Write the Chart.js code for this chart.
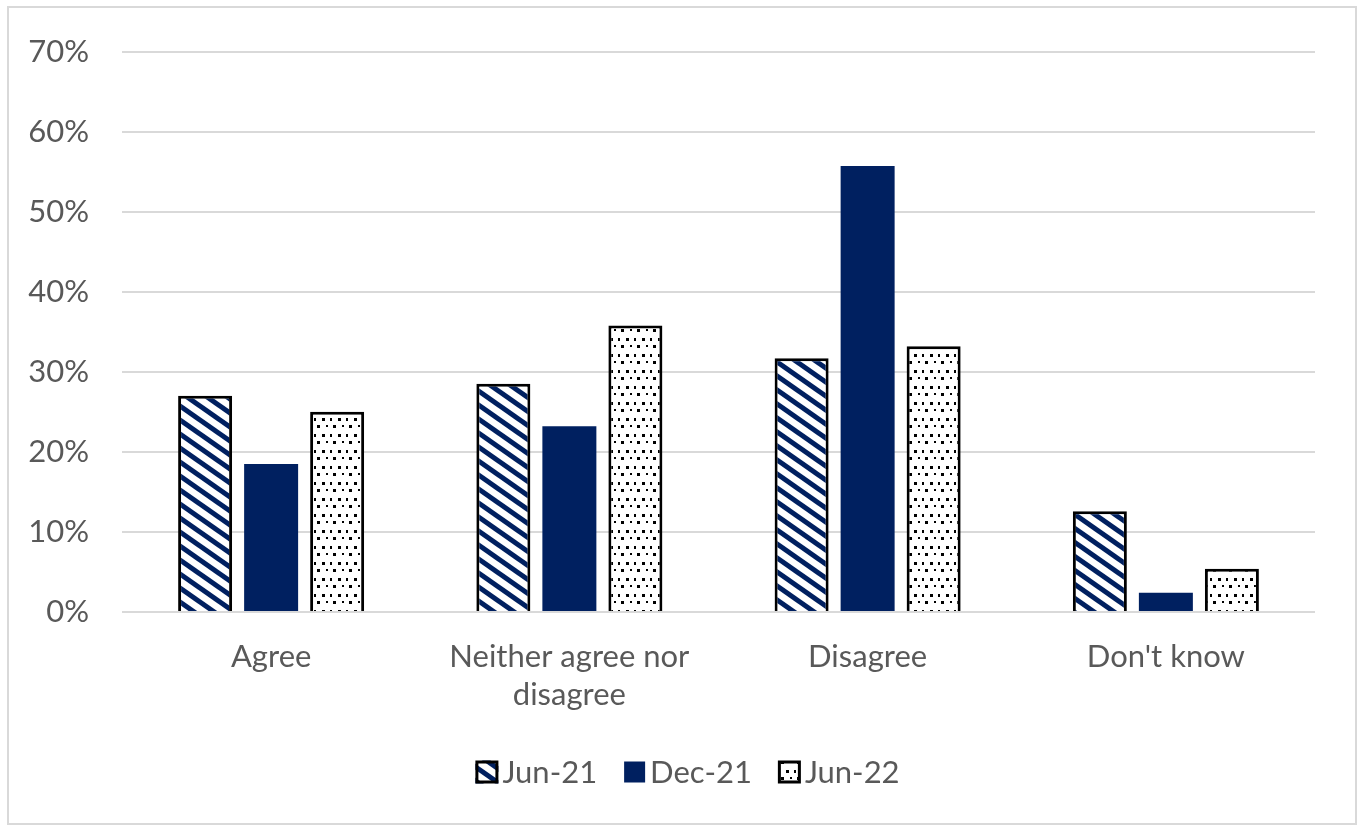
<!DOCTYPE html>
<html>
<head>
<meta charset="utf-8">
<title>Survey responses</title>
<script src="https://cdn.jsdelivr.net/npm/chart.js@4.4.1/dist/chart.umd.min.js"></script>
<style>
  html, body { margin: 0; padding: 0; background: #fff; }
  #wrap { position: absolute; left: 0; top: 0; width: 1359px; height: 826px; }
</style>
</head>
<body>
<div id="wrap"><canvas id="surveyChart"></canvas></div>
<script>
/* ---------- data ---------- */
const categories = ["Agree", ["Neither agree nor", "disagree"], "Disagree", "Don't know"];
const seriesNames = ["Jun-21", "Dec-21", "Jun-22"];
const jun21 = [27.0, 28.5, 31.7, 12.6];
const dec21 = [18.5, 23.2, 55.7, 2.4];
const jun22 = [25.0, 35.8, 33.2, 5.4];
const yTicks = [0, 10, 20, 30, 40, 50, 60, 70];

/* ---------- look ---------- */
const NAVY = "#002060";
const TEXT = "#595959";
const GRID = "#d9d9d9";
const FONT = { family: "Lato, 'Open Sans', sans-serif", size: 31 };

function stripePattern() {
  const w = 20, h = 14;
  const c = document.createElement("canvas");
  c.width = w; c.height = h;
  const g = c.getContext("2d");
  g.fillStyle = "#fff";
  g.fillRect(0, 0, w, h);
  g.strokeStyle = NAVY;
  g.lineWidth = 5;
  for (const dx of [-w, 0, w]) {
    g.beginPath();
    g.moveTo(dx - w, -h);
    g.lineTo(dx + 2 * w, 2 * h);
    g.stroke();
  }
  return g.createPattern(c, "repeat");
}

function dotPattern() {
  const c = document.createElement("canvas");
  c.width = 16; c.height = 16;
  const g = c.getContext("2d");
  g.fillStyle = "#fff";
  g.fillRect(0, 0, 16, 16);
  g.fillStyle = "#000";
  g.fillRect(2, 2, 3, 3);
  g.fillRect(10, 2, 2, 3);
  g.fillRect(6, 9, 2, 2);
  g.fillRect(13, 9, 3, 3);
  return g.createPattern(c, "repeat");
}

const stripes = stripePattern();
const dots = dotPattern();

/* ---------- frame + legend ---------- */
const frameAndLegend = {
  id: "frameAndLegend",
  afterDraw(chart) {
    const { ctx } = chart;
    ctx.save();
    ctx.strokeStyle = GRID;
    ctx.lineWidth = 2;
    ctx.strokeRect(8, 7, chart.width - 11, chart.height - 9);

    ctx.font = `${FONT.size}px ${FONT.family}`;
    ctx.textBaseline = "middle";
    ctx.fillStyle = TEXT;
    const box = 23, gapText = 4, gapItem = 26, cy = 772;
    const widths = seriesNames.map(n => ctx.measureText(n).width);
    const total = widths.reduce((a, w) => a + box + gapText + w, 0) + gapItem * 2;
    let x = chart.width / 2 + 8 - total / 2;

    chart.data.datasets.forEach((ds, i) => {
      if (ds.borderWidth) {
        ctx.fillStyle = ds.backgroundColor;
        ctx.fillRect(x, cy - box / 2, box, box);
        ctx.strokeStyle = "#000";
        ctx.lineWidth = 3;
        ctx.strokeRect(x + 1.5, cy - box / 2 + 1.5, box - 3, box - 3);
      } else {
        ctx.fillStyle = ds.backgroundColor;
        ctx.fillRect(x + 1, cy - box / 2 + 1, box - 2, box - 2);
      }
      ctx.fillStyle = TEXT;
      ctx.fillText(seriesNames[i], x + box + gapText, cy + 1);
      x += box + gapText + widths[i] + gapItem;
    });
    ctx.restore();
  }
};

/* ---------- chart ---------- */
new Chart(document.getElementById("surveyChart"), {
  type: "bar",
  data: {
    labels: categories,
    datasets: [
      { label: seriesNames[0], data: jun21, backgroundColor: stripes, borderColor: "#000", borderWidth: 3 },
      { label: seriesNames[1], data: dec21, backgroundColor: NAVY, borderWidth: 0 },
      { label: seriesNames[2], data: jun22, backgroundColor: dots, borderColor: "#000", borderWidth: 3 }
    ]
  },
  options: {
    responsive: true,
    maintainAspectRatio: false,
    animation: false,
    events: [],
    layout: { padding: { left: 10, right: 44, top: 48, bottom: 104 } },
    datasets: { bar: { categoryPercentage: 0.664, barPercentage: 0.818 } },
    plugins: {
      legend: { display: false },
      tooltip: { enabled: false }
    },
    scales: {
      x: {
        grid: { display: false },
        border: { display: false },
        ticks: { color: TEXT, font: { ...FONT, lineHeight: 1.22 }, padding: 18, maxRotation: 0, autoSkip: false },
        afterFit(scale) { scale.height = 110; }
      },
      y: {
        min: 0,
        max: 70,
        afterBuildTicks(scale) { scale.ticks = yTicks.map(v => ({ value: v })); },
        grid: { color: GRID, lineWidth: 2, drawTicks: false },
        border: { display: false },
        ticks: { color: TEXT, font: FONT, padding: 33, callback: v => v + "%" },
        afterFit(scale) { scale.width = 112; }
      }
    }
  },
  plugins: [frameAndLegend]
});
</script>
</body>
</html>
